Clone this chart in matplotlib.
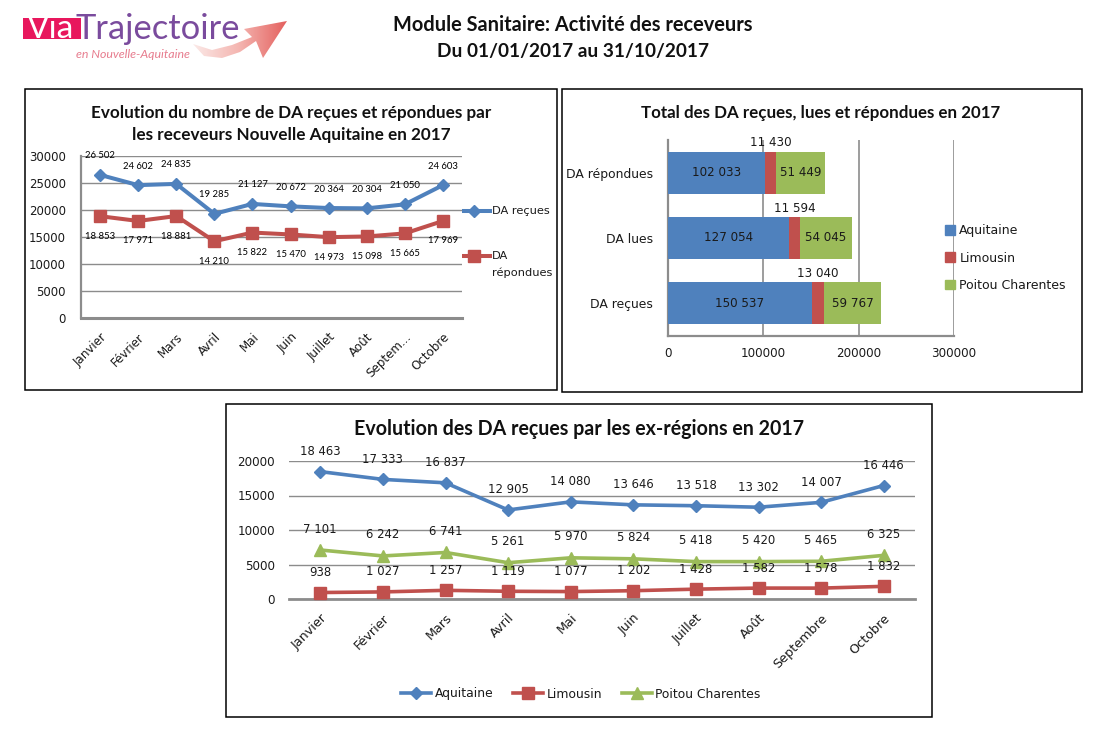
import matplotlib

matplotlib.use("Agg")

from matplotlib.colors import LinearSegmentedColormap
from matplotlib.lines import Line2D
from matplotlib.patches import Patch, PathPatch, Rectangle
from matplotlib.path import Path
from matplotlib.transforms import ScaledTranslation
import matplotlib.pyplot as plt
import numpy as np

W, H = 1102, 735

BLUE = "#4F81BD"
RED = "#C0504D"
GREEN = "#9BBB59"
GRID = "#8C8C8C"
TEXT = "#1A1A1A"
TITLE_FONT = "Lato"
TICK_FONT = "DejaVu Sans"

MONTHS_SHORT = ["Janvier", "Février", "Mars", "Avril", "Mai", "Juin", "Juillet", "Août", "Septem...", "Octobre"]
MONTHS = ["Janvier", "Février", "Mars", "Avril", "Mai", "Juin", "Juillet", "Août", "Septembre", "Octobre"]

da_recues = [26502, 24602, 24835, 19285, 21127, 20672, 20364, 20304, 21050, 24603]
da_repondues = [18853, 17971, 18881, 14210, 15822, 15470, 14973, 15098, 15665, 17969]

totals_cats = ["DA reçues", "DA lues", "DA répondues"]
totals_aquitaine = [150537, 127054, 102033]
totals_limousin = [13040, 11594, 11430]
totals_poitou = [59767, 54045, 51449]

aquitaine = [18463, 17333, 16837, 12905, 14080, 13646, 13518, 13302, 14007, 16446]
limousin = [938, 1027, 1257, 1119, 1077, 1202, 1428, 1582, 1578, 1832]
poitou = [7101, 6242, 6741, 5261, 5970, 5824, 5418, 5420, 5465, 6325]


def fmt(v):
    return f"{v:,}".replace(",", " ")


def px_axes(fig, left, top, right, bottom):
    return fig.add_axes([left / W, 1 - bottom / H, (right - left) / W, (bottom - top) / H])


def point_labels(ax, values, dy, size, font, color=TEXT):
    for i, v in enumerate(values):
        ax.annotate(fmt(v), (i, v), xytext=(0, dy), textcoords="offset pixels",
                    ha="center", va="center", fontsize=size, family=font, color=color,
                    annotation_clip=False, zorder=6)


def style_axes(ax, size):
    for side in ["top", "right"]:
        ax.spines[side].set_visible(False)
    ax.set_axisbelow(True)
    ax.tick_params(length=0, labelsize=size, labelcolor=TEXT)
    for lab in ax.get_xticklabels() + ax.get_yticklabels():
        lab.set_family(TICK_FONT)


def shift_xlabels(fig, ax, dx_px, size):
    # rotated labels sit a little left of the category centre
    offset = ScaledTranslation(dx_px / 100, 0, fig.dpi_scale_trans)
    for lab in ax.get_xticklabels():
        lab.set_transform(lab.get_transform() + offset)
        lab.set_fontsize(size)


def draw_logo(bg):
    bg.add_patch(Rectangle((23, 18), 58, 21, color="#E8175D", lw=0))
    bg.text(27, 38, "Via", color="white", fontsize=24, family="Lato", va="baseline", clip_on=True)
    bg.text(76, 39, "Trajectoire", color="#7A4B9D", fontsize=24.8, family="Lato", va="baseline")
    bg.text(76, 58, "en Nouvelle-Aquitaine", color="#E77C8E", fontsize=8.9, family="Lato",
            style="italic", va="baseline")
    verts = [(244, 29), (287, 21), (263, 58), (256, 41), (240, 52), (222, 58), (204, 56),
             (193, 44), (212, 50), (232, 45), (252, 37), (244, 29)]
    codes = [Path.MOVETO] + [Path.LINETO] * (len(verts) - 2) + [Path.CLOSEPOLY]
    arrow = PathPatch(Path(verts, codes), facecolor="none", edgecolor="none")
    bg.add_patch(arrow)
    cmap = LinearSegmentedColormap.from_list("arrow", ["#FBE9E7", "#F4B4AF", "#E4605E"])
    grad = np.linspace(0, 1, 128).reshape(1, -1)
    img = bg.imshow(grad, cmap=cmap, extent=(193, 287, 60, 20), aspect="auto", zorder=2)
    img.set_clip_path(arrow)


def main():
    fig = plt.figure(figsize=(W / 100, H / 100), dpi=100)

    # background layer in pixel coordinates: frames, header, logo
    bg = fig.add_axes([0, 0, 1, 1], zorder=-1)
    draw_logo(bg)
    bg.set_xlim(0, W)
    bg.set_ylim(H, 0)
    bg.axis("off")
    for x0, y0, x1, y1 in [(25, 89, 557, 390), (562, 89, 1082, 392), (226, 404, 932, 717)]:
        bg.add_patch(Rectangle((x0, y0), x1 - x0, y1 - y0, fill=False, edgecolor="black", lw=1.1))
    bg.text(573, 25, "Module Sanitaire: Activité des receveurs", ha="center", va="center",
            fontsize=14.4, fontweight="bold", family=TITLE_FONT, color="#111111")
    bg.text(573, 51, "Du 01/01/2017 au 31/10/2017", ha="center", va="center",
            fontsize=13.7, fontweight="bold", family=TITLE_FONT, color="#111111")
    bg.text(291, 113, "Evolution du nombre de DA reçues et répondues par", ha="center", va="center",
            fontsize=12.3, fontweight="bold", family=TITLE_FONT, color="#111111")
    bg.text(291, 135, "les receveurs Nouvelle Aquitaine en 2017", ha="center", va="center",
            fontsize=12.3, fontweight="bold", family=TITLE_FONT, color="#111111")
    bg.text(821, 113, "Total des DA reçues, lues et répondues en 2017", ha="center", va="center",
            fontsize=12.2, fontweight="bold", family=TITLE_FONT, color="#111111")
    bg.text(579, 429, "Evolution des DA reçues par les ex-régions en 2017", ha="center", va="center",
            fontsize=14.1, fontweight="bold", family=TITLE_FONT, color="#111111")

    # panel 1
    ax1 = px_axes(fig, 81, 156, 462, 318)
    x = np.arange(len(MONTHS_SHORT))
    ax1.plot(x, da_recues, color=BLUE, lw=2.9, marker="D", ms=6.2, zorder=4, clip_on=False)
    ax1.plot(x, da_repondues, color=RED, lw=2.9, marker="s", ms=8.6, zorder=4, clip_on=False)
    ax1.set_xlim(-0.5, 9.5)
    ax1.set_ylim(0, 30000)
    ax1.set_yticks(range(0, 30001, 5000))
    ax1.set_xticks(x, MONTHS_SHORT, rotation=45, ha="right", rotation_mode="anchor")
    ax1.yaxis.grid(True, color=GRID, lw=1)
    style_axes(ax1, 8.5)
    shift_xlabels(fig, ax1, -3, 8.6)
    ax1.tick_params(axis="y", pad=11)
    ax1.tick_params(axis="x", pad=9)
    ax1.spines["left"].set(color=GRID, lw=1.6)
    ax1.spines["bottom"].set(color=GRID, lw=2.2)
    point_labels(ax1, da_recues, 19, 6.8, TITLE_FONT, "black")
    point_labels(ax1, da_repondues, -20, 6.8, TITLE_FONT, "black")
    # legend with a wrapped entry: the marker stays on the first line
    bg.add_line(Line2D([458, 490], [211, 211], color=BLUE, lw=2.9))
    bg.add_line(Line2D([474], [211], color=BLUE, marker="D", ms=6.2))
    bg.add_line(Line2D([458, 490], [256, 256], color=RED, lw=2.9))
    bg.add_line(Line2D([474], [256], color=RED, marker="s", ms=8.6))
    for y_txt, label in [(211, "DA reçues"), (256, "DA"), (273, "répondues")]:
        bg.text(492, y_txt, label, ha="left", va="center", fontsize=8.2, family=TICK_FONT, color=TEXT)

    # panel 2
    ax2 = px_axes(fig, 668, 140, 954, 336)
    y = np.arange(len(totals_cats))
    aq = np.array(totals_aquitaine)
    li = np.array(totals_limousin)
    po = np.array(totals_poitou)
    h = 0.645
    ax2.barh(y, aq, height=h, color=BLUE, label="Aquitaine", zorder=3)
    ax2.barh(y, li, height=h, left=aq, color=RED, label="Limousin", zorder=3)
    ax2.barh(y, po, height=h, left=aq + li, color=GREEN, label="Poitou Charentes", zorder=3)
    ax2.set_xlim(0, 300000)
    ax2.set_ylim(-0.5, 2.5)
    ax2.set_xticks([0, 100000, 200000, 300000])
    ax2.set_yticks(y, totals_cats)
    ax2.xaxis.grid(True, color=GRID, lw=1.2)
    style_axes(ax2, 8.9)
    for lab in ax2.get_xticklabels():
        lab.set_fontsize(8.6)
    ax2.tick_params(axis="y", pad=11)
    ax2.tick_params(axis="x", pad=8)
    ax2.spines["left"].set(color=GRID, lw=1.6)
    ax2.spines["bottom"].set(color=GRID, lw=1.6)
    for i in y:
        ax2.text(aq[i] / 2, i, fmt(int(aq[i])), ha="center", va="center", fontsize=8.6,
                 family=TICK_FONT, color=TEXT, zorder=5)
        ax2.text(aq[i] + li[i] + po[i] / 2, i, fmt(int(po[i])), ha="center", va="center", fontsize=8.6,
                 family=TICK_FONT, color=TEXT, zorder=5)
        ax2.annotate(fmt(int(li[i])), (aq[i] + li[i] / 2, i), xytext=(0, 30), textcoords="offset pixels",
                     ha="center", va="center", fontsize=8.6, family=TICK_FONT, color=TEXT,
                     annotation_clip=False, zorder=5)
    fig.legend(handles=[Patch(color=BLUE, label="Aquitaine"), Patch(color=RED, label="Limousin"),
                        Patch(color=GREEN, label="Poitou Charentes")],
               loc="center left", bbox_to_anchor=(945 / W, 1 - 258 / H), frameon=False,
               prop={"family": TICK_FONT, "size": 9}, labelcolor=TEXT,
               handlelength=0.8, handleheight=0.8, handletextpad=0.35, labelspacing=1.15,
               borderpad=0, borderaxespad=0)

    # panel 3
    ax3 = px_axes(fig, 289, 461, 915, 599)
    l_aq, = ax3.plot(x, aquitaine, color=BLUE, lw=2.6, marker="D", ms=6.4, zorder=4, label="Aquitaine")
    l_li, = ax3.plot(x, limousin, color=RED, lw=2.6, marker="s", ms=8.6, zorder=4, label="Limousin", clip_on=False)
    l_po, = ax3.plot(x, poitou, color=GREEN, lw=2.6, marker="^", ms=8.6, zorder=4, label="Poitou Charentes")
    ax3.set_xlim(-0.5, 9.5)
    ax3.set_ylim(0, 20000)
    ax3.set_yticks(range(0, 20001, 5000))
    ax3.set_xticks(x, MONTHS, rotation=45, ha="right", rotation_mode="anchor")
    ax3.yaxis.grid(True, color=GRID, lw=1)
    style_axes(ax3, 8.6)
    shift_xlabels(fig, ax3, -2, 9.2)
    ax3.tick_params(axis="y", pad=10)
    ax3.tick_params(axis="x", pad=9)
    ax3.spines["left"].set_visible(False)
    ax3.spines["bottom"].set(color=GRID, lw=2)
    point_labels(ax3, aquitaine, 20, 8.4, TICK_FONT)
    point_labels(ax3, poitou, 21, 8.4, TICK_FONT)
    point_labels(ax3, limousin, 20, 8.4, TICK_FONT)
    fig.legend(handles=[l_aq, l_li, l_po], loc="center", bbox_to_anchor=(581 / W, 1 - 694 / H), ncol=3,
               frameon=False, prop={"family": TICK_FONT, "size": 8.9}, labelcolor=TEXT,
               handlelength=2.4, handletextpad=0.3, columnspacing=1.6, borderpad=0, borderaxespad=0)

    fig.savefig("out.png", dpi=100)
    plt.close(fig)


if __name__ == "__main__":
    main()
